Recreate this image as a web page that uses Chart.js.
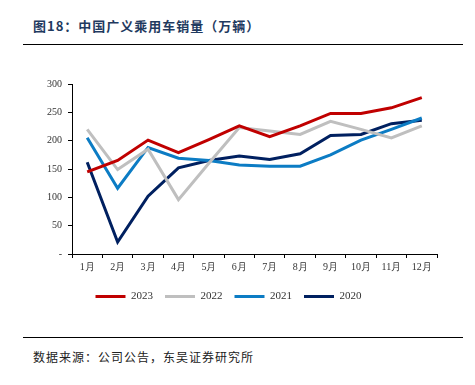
<!DOCTYPE html>
<html>
<head>
<meta charset="utf-8">
<script src="https://cdn.jsdelivr.net/npm/chart.js@4"></script>
<style>
  body { margin: 0; width: 475px; height: 385px; background: #fff; position: relative; overflow: hidden; }
  #title { position: absolute; left: 33px; top: 16px; font: bold 13px "Noto Sans CJK SC", sans-serif; color: #1F3A60; letter-spacing: 1px; }
  .rule { position: absolute; left: 23px; width: 440px; height: 1px; background: #000; }
  #src { position: absolute; left: 33px; top: 348px; font: 12px "Noto Sans CJK SC", sans-serif; color: #222; letter-spacing: 1px; }
  #box { position: absolute; left: 0; top: 60px; width: 475px; height: 260px; }
</style>
</head>
<body>
<div id="title">图18：中国广义乘用车销量（万辆）</div>
<div class="rule" style="top:44px"></div>
<div id="box"><canvas id="myChart"></canvas></div>
<div class="rule" style="top:337px"></div>
<div id="src">数据来源：公司公告，东吴证券研究所</div>
<script>
// 月份
const months = ['1月', '2月', '3月', '4月', '5月', '6月', '7月', '8月', '9月', '10月', '11月', '12月'];
// 各年度销量（万辆）
const sales2023 = [145, 165, 201, 179, 202, 226, 207, 226, 248, 248, 258, 276];
const sales2022 = [220, 149, 185, 96, 160, 223, 217, 211, 234, 220, 205, 226];
const sales2021 = [205, 116, 188, 169, 165, 157, 155, 155, 175, 201, 220, 240];
const sales2020 = [162, 21, 102, 152, 165, 173, 167, 177, 209, 211, 230, 236];

const serif = "'Liberation Serif', 'Times New Roman', serif";

function serie(label, data, color) {
    return {
        label: label,
        data: data,
        borderColor: color,
        backgroundColor: color,
        borderWidth: 3,
        pointRadius: 0,
        tension: 0
    };
}

new Chart(document.getElementById('myChart'), {
    type: 'line',
    data: {
        labels: months,
        datasets: [
            serie('2023', sales2023, '#C00000'),
            serie('2022', sales2022, '#BFBFBF'),
            serie('2021', sales2021, '#0C7CC4'),
            serie('2020', sales2020, '#002060')
        ]
    },
    options: {
        responsive: true,
        maintainAspectRatio: false,
        animation: false,
        layout: { padding: { left: 20, right: 38, top: 24, bottom: 8 } },
        plugins: {
            legend: {
                position: 'bottom',
                labels: {
                    usePointStyle: true,
                    pointStyle: 'line',
                    pointStyleWidth: 30,
                    padding: 12,
                    color: '#333',
                    font: { family: serif, size: 11 }
                }
            },
            tooltip: { enabled: false }
        },
        scales: {
            x: {
                offset: true,
                grid: { drawOnChartArea: false, offset: true, color: '#000', tickLength: 4 },
                border: { color: '#000', width: 1 },
                ticks: { color: '#333', font: { family: serif, size: 10 }, maxRotation: 0, padding: 3 },
                afterFit: function (s) { s.height = 25; }
            },
            y: {
                min: 0,
                max: 300,
                grid: { drawOnChartArea: false, color: '#000', tickLength: 4 },
                border: { color: '#000', width: 1 },
                ticks: {
                    stepSize: 50,
                    color: '#333',
                    font: { family: serif, size: 10 },
                    padding: 6,
                    callback: function (v) { return v === 0 ? '-' : v; }
                },
                afterFit: function (s) { s.width = 52; }
            }
        }
    }
});
</script>
</body>
</html>
